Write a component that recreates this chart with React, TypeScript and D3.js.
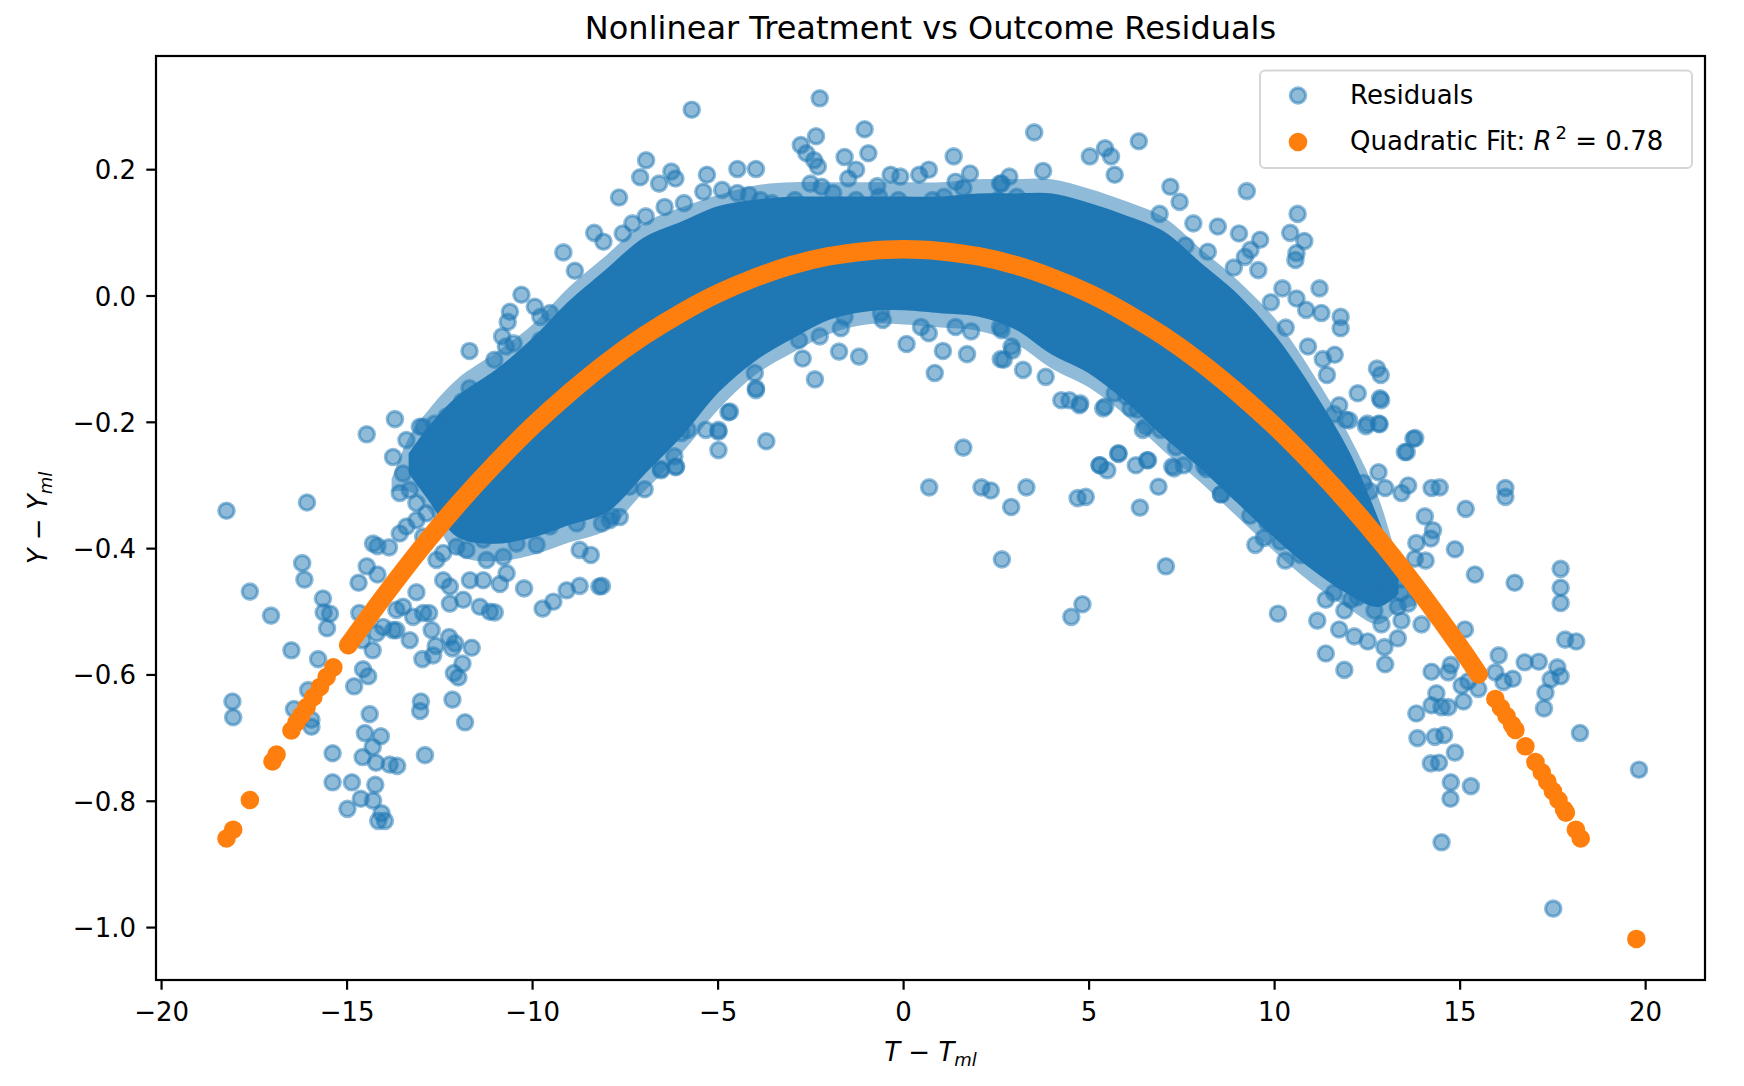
import React, { useEffect } from "react";
import * as d3 from "d3";

const W = 1744;
const H = 1086;
const plot = { left: 156, right: 1705, top: 56, bottom: 980 };

const xDomain: [number, number] = [-20.15, 21.6];
const yDomain: [number, number] = [-1.083, 0.38];
const xTicks = [-20, -15, -10, -5, 0, 5, 10, 15, 20];
const yTicks = [-1.0, -0.8, -0.6, -0.4, -0.2, 0.0, 0.2];

const titleText = "Nonlinear Treatment vs Outcome Residuals";
const legendResiduals = "Residuals";
const legendFit = "Quadratic Fit: ";
const r2Value = "0.78";

// dense core of the residual cloud (upper / lower envelope, fully overlapped)
const coreX = [-13.3, -12.8, -12, -11, -10, -9, -8, -7, -6, -5, -4, -3, -2, -1, 0, 1, 2, 3, 4, 5, 6, 7, 8, 9, 10, 11, 12, 12.8, 13.3];
const coreTop = [-0.25, -0.21, -0.16, -0.12, -0.07, -0.01, 0.04, 0.09, 0.115, 0.14, 0.15, 0.155, 0.155, 0.155, 0.155, 0.155, 0.16, 0.16, 0.16, 0.145, 0.125, 0.1, 0.05, 0.0, -0.065, -0.15, -0.25, -0.36, -0.44];
const coreBottom = [-0.28, -0.32, -0.38, -0.39, -0.38, -0.36, -0.34, -0.28, -0.22, -0.15, -0.1, -0.065, -0.035, -0.022, -0.02, -0.025, -0.03, -0.05, -0.09, -0.12, -0.165, -0.22, -0.27, -0.325, -0.38, -0.43, -0.47, -0.49, -0.47];

// thin fringe of overlapping residuals around the core
const haloX = [-13.8, -13.3, -12.8, -12, -11, -10, -9, -8, -7, -6, -5, -4, -3, -2, -1, 0, 1, 2, 3, 4, 5, 6, 7, 8, 9, 10, 11, 12, 12.8, 13.3, 13.8];
const haloTop = [-0.29, -0.22, -0.18, -0.13, -0.09, -0.045, 0.015, 0.065, 0.115, 0.14, 0.16, 0.175, 0.18, 0.18, 0.18, 0.18, 0.18, 0.185, 0.185, 0.185, 0.17, 0.15, 0.125, 0.075, 0.025, -0.035, -0.12, -0.22, -0.32, -0.41, -0.47];
const haloBottom = [-0.31, -0.31, -0.34, -0.41, -0.42, -0.41, -0.39, -0.37, -0.31, -0.25, -0.18, -0.125, -0.09, -0.06, -0.045, -0.045, -0.05, -0.055, -0.075, -0.115, -0.145, -0.19, -0.245, -0.295, -0.35, -0.405, -0.455, -0.495, -0.52, -0.5, -0.49];

// individual residuals outside the dense core
const residualsLeft: [number, number][] = [
  [-18.25, -0.34], [-16.08, -0.327], [-14.47, -0.219], [-13.71, -0.195], [-13.76, -0.255],
  [-16.21, -0.423], [-16.15, -0.449], [-17.62, -0.468], [-17.05, -0.506], [-15.65, -0.479],
  [-15.63, -0.501], [-15.46, -0.503], [-15.54, -0.526], [-16.5, -0.561], [-15.78, -0.575],
  [-18.09, -0.642], [-18.07, -0.667], [-16.05, -0.624], [-16.43, -0.654], [-15.96, -0.671], [-15.96, -0.682],
  [-15.39, -0.724], [-15.39, -0.77], [-14.87, -0.77], [-14.99, -0.812], [-14.63, -0.796], [-14.24, -0.774], [-14.3, -0.799],
  [-14.16, -0.831], [-13.98, -0.831], [-14.07, -0.819],
  [-14.39, -0.662], [-14.52, -0.692], [-14.09, -0.697], [-14.31, -0.714],
  [-14.58, -0.73], [-14.22, -0.739], [-13.85, -0.742], [-13.65, -0.744],
  [-14.81, -0.618], [-14.57, -0.591], [-14.43, -0.602],
  [-14.69, -0.454], [-14.47, -0.428], [-14.18, -0.441],
  [-14.3, -0.392], [-14.18, -0.396], [-13.87, -0.398],
  [-14.67, -0.502], [-14.59, -0.545], [-14.31, -0.561],
  [-13.01, -0.642], [-13.03, -0.657], [-12.9, -0.727], [-12.16, -0.639], [-11.82, -0.675],
  [-12.12, -0.597], [-12.0, -0.604], [-11.89, -0.582], [-12.97, -0.575], [-12.68, -0.569],
  [-11.64, -0.557], [-12.25, -0.54], [-12.09, -0.55], [-12.16, -0.558], [-12.61, -0.554],
  [-13.13, -0.469], [-13.67, -0.497], [-13.49, -0.492], [-13.22, -0.508], [-12.95, -0.502], [-12.79, -0.502],
  [-12.72, -0.529], [-13.31, -0.545], [-13.76, -0.529], [-12.23, -0.487], [-11.87, -0.481],
  [-11.42, -0.492], [-11.15, -0.5], [-11.02, -0.501], [-10.23, -0.463],
  [-9.73, -0.495], [-9.44, -0.484], [-9.08, -0.466], [-8.73, -0.459], [-8.2, -0.46],
  [-8.73, -0.402], [-8.43, -0.41],
  [-10.79, -0.413], [-10.7, -0.439], [-10.88, -0.456], [-11.33, -0.45], [-11.69, -0.45], [-11.24, -0.418],
  [-12.41, -0.45], [-12.23, -0.46], [-12.59, -0.418], [-12.41, -0.407], [-12.05, -0.397], [-11.78, -0.402],
  [-14.2, -0.534], [-14.03, -0.524], [-13.67, -0.529],
  [-13.49, -0.281], [-13.31, -0.307], [-13.58, -0.312], [-13.13, -0.328], [-12.86, -0.344], [-12.5, -0.291],
  [-12.59, -0.254], [-12.95, -0.207], [-13.4, -0.228], [-12.32, -0.191], [-12.14, -0.186], [-11.69, -0.165],
  [-13.4, -0.365], [-13.58, -0.376], [-13.13, -0.355], [-12.95, -0.381],
  [-11.33, -0.386], [-10.43, -0.392], [-9.89, -0.394], [-9.53, -0.365], [-8.81, -0.36], [-7.92, -0.355], [-7.65, -0.35],
];

const residualsTop: [number, number][] = [
  [-5.71, 0.295], [-2.26, 0.313], [-1.05, 0.264],
  [-2.36, 0.253], [-2.77, 0.239], [-2.62, 0.226], [-2.41, 0.215], [-2.31, 0.205],
  [-0.95, 0.226], [-1.59, 0.22], [-1.28, 0.2], [-1.49, 0.186],
  [1.35, 0.221], [0.68, 0.2], [0.42, 0.192], [-0.09, 0.189], [-0.35, 0.192], [-0.71, 0.174],
  [1.79, 0.194], [1.4, 0.181], [1.61, 0.171], [2.85, 0.189], [2.64, 0.178],
  [-6.94, 0.215], [-7.1, 0.188], [-6.59, 0.178], [-6.26, 0.197], [-6.15, 0.186],
  [-5.3, 0.192], [-4.48, 0.201], [-3.98, 0.201], [-7.67, 0.156],
  [-5.4, 0.165], [-4.89, 0.168], [-4.48, 0.163], [-4.17, 0.16], [-3.86, 0.152], [-3.55, 0.147],
  [-2.93, 0.152], [-2.51, 0.178], [-2.21, 0.173], [-1.9, 0.163], [-1.28, 0.152], [-0.66, 0.157], [-0.14, 0.152],
  [0.78, 0.152], [1.09, 0.157], [2.23, 0.147], [2.54, 0.152], [3.05, 0.157],
  [-9.17, 0.069], [-8.86, 0.04], [-8.34, 0.1], [-8.09, 0.086], [-7.57, 0.099], [-7.31, 0.115], [-6.95, 0.126], [-6.44, 0.141], [-5.92, 0.147],
  [-10.3, 0.002], [-10.61, -0.025], [-10.67, -0.041], [-9.94, -0.017], [-9.79, -0.033], [-9.53, -0.027],
  [-11.7, -0.087], [-11.03, -0.101], [-10.82, -0.064], [-10.72, -0.08], [-10.51, -0.075], [-9.79, -0.07],
  [-12.16, -0.186], [-11.9, -0.167], [-11.7, -0.146], [-12.63, -0.202], [-13.04, -0.207], [-11.08, -0.138],
  [3.52, 0.259], [6.34, 0.245], [5.02, 0.221], [5.43, 0.234], [5.59, 0.221], [5.69, 0.192], [3.76, 0.198], [2.6, 0.178],
  [9.25, 0.166], [10.62, 0.13], [10.42, 0.1], [10.8, 0.087], [10.59, 0.068], [10.56, 0.057],
  [7.19, 0.173], [7.44, 0.149], [7.81, 0.115], [8.47, 0.11], [9.04, 0.099], [9.61, 0.089], [9.35, 0.073], [9.2, 0.062], [9.56, 0.041],
  [10.21, 0.012], [11.21, 0.012], [10.59, -0.004], [10.85, -0.022], [11.26, -0.027], [11.78, -0.033], [11.78, -0.051],
  [11.62, -0.093], [11.41, -0.125], [12.76, -0.115], [12.86, -0.125], [12.24, -0.154], [12.84, -0.162],
  [13.74, -0.226], [13.51, -0.247], [12.5, -0.202], [12.81, -0.202], [11.92, -0.196],
  [8.2, 0.07], [8.9, 0.045], [9.9, -0.01], [10.3, -0.05], [10.9, -0.08], [11.3, -0.1], [7.6, 0.08], [6.9, 0.13],
];

const residualsMiddle: [number, number][] = [
  [-3.7, -0.23], [1.61, -0.24], [-2.39, -0.132],
  [-1.2, -0.096], [-1.74, -0.088], [-1.69, -0.051], [-1.59, -0.033], [-2.26, -0.064], [-2.72, -0.099], [-2.82, -0.07],
  [0.08, -0.076], [0.84, -0.122], [1.06, -0.087], [1.71, -0.092], [2.62, -0.1], [2.93, -0.086], [-0.56, -0.038],
  [-0.61, -0.027], [0.47, -0.049], [0.68, -0.059], [1.4, -0.049], [1.82, -0.056], [2.64, -0.054],
  [-3.98, -0.149], [-4.01, -0.122], [-4.68, -0.183], [-4.99, -0.212], [-4.99, -0.244], [-6.18, -0.254], [-6.13, -0.27],
  [-6.54, -0.276], [-5.82, -0.212],
  [2.7, -0.101], [3.22, -0.117], [3.83, -0.128], [4.25, -0.165], [4.76, -0.17], [5.38, -0.178], [5.69, -0.154], [6.0, -0.159],
  [6.31, -0.18], [6.52, -0.207], [6.93, -0.212], [7.34, -0.239], [5.79, -0.249], [5.28, -0.268], [5.49, -0.276], [6.26, -0.268],
  [6.56, -0.26], [7.24, -0.27], [7.55, -0.268], [2.6, -0.049], [2.91, -0.08],
  [0.69, -0.303], [2.1, -0.303], [2.35, -0.308], [3.31, -0.303], [2.9, -0.334], [2.65, -0.417],
  [4.69, -0.32], [4.91, -0.318], [6.37, -0.335], [6.87, -0.302], [7.07, -0.428], [4.82, -0.488], [4.52, -0.508],
  [5.29, -0.268], [5.79, -0.25], [6.59, -0.26], [7.29, -0.273], [8.1, -0.269], [8.56, -0.314],
  [4.47, -0.165], [4.74, -0.173], [5.43, -0.175], [6.12, -0.178], [6.45, -0.212],
  [-5.33, -0.212], [-4.99, -0.215], [-4.72, -0.184], [-5.99, -0.217], [-6.54, -0.274], [-6.15, -0.271], [-6.98, -0.306],
  [-7.39, -0.302], [-7.86, -0.349], [-8.13, -0.36], [-8.13, -0.459], [-3.98, -0.146],
];

const residualsRight: [number, number][] = [
  [19.82, -0.75], [17.51, -0.97], [14.5, -0.865],
  [14.75, -0.77], [14.74, -0.796], [15.29, -0.776],
  [14.21, -0.74], [14.43, -0.739], [14.86, -0.723],
  [13.85, -0.7], [14.32, -0.698], [14.57, -0.695],
  [13.82, -0.661], [14.23, -0.648], [14.5, -0.651], [14.36, -0.629], [15.09, -0.642], [14.68, -0.651],
  [14.23, -0.595], [14.68, -0.596], [15.04, -0.617], [15.22, -0.61], [15.49, -0.622], [14.75, -0.584], [15.13, -0.528],
  [15.95, -0.596], [16.17, -0.611], [16.42, -0.606], [16.04, -0.569],
  [16.74, -0.58], [17.12, -0.579], [17.62, -0.588], [17.44, -0.607], [17.71, -0.602], [17.3, -0.628], [17.26, -0.653],
  [17.83, -0.544], [18.13, -0.547], [18.23, -0.692],
  [17.71, -0.432], [17.71, -0.462], [17.71, -0.486],
  [16.22, -0.304], [16.22, -0.318],
  [16.47, -0.454], [15.4, -0.441], [14.86, -0.401], [15.15, -0.337],
  [14.23, -0.304], [14.45, -0.303], [13.6, -0.3], [13.42, -0.312], [14.05, -0.349], [14.27, -0.371], [14.21, -0.384],
  [13.82, -0.391], [14.07, -0.419], [12.98, -0.304], [12.57, -0.309], [12.39, -0.296], [12.8, -0.279], [13.56, -0.247], [13.79, -0.225],
  [12.01, -0.197], [12.46, -0.206], [12.83, -0.203], [12.87, -0.165], [11.74, -0.173], [11.6, -0.187],
  [10.09, -0.503], [11.15, -0.514], [11.38, -0.566], [11.88, -0.592], [12.98, -0.583], [11.74, -0.528], [12.15, -0.539],
  [12.51, -0.547], [12.96, -0.556], [13.32, -0.542], [12.69, -0.498], [12.24, -0.477], [12.88, -0.52], [13.42, -0.514], [13.96, -0.52],
  [11.38, -0.481], [11.88, -0.498], [12.33, -0.47], [12.6, -0.46], [12.78, -0.449], [13.05, -0.438], [13.41, -0.47],
  [13.32, -0.492], [13.6, -0.487], [13.87, -0.468],
  [9.48, -0.394], [10.29, -0.419], [9.71, -0.383], [10.16, -0.389], [10.7, -0.41], [10.97, -0.4],
  [8.55, -0.314], [9.34, -0.348], [9.8, -0.359], [8.17, -0.274],
  [11.42, -0.421], [11.78, -0.449], [12.06, -0.481], [11.6, -0.47],
  [13.78, -0.416], [13.41, -0.449], [13.05, -0.47],
];

// quadratic fit: dense run of fitted points (drawn as a continuous band) and isolated fitted points
const fitRunX = [-14.97, -14, -13, -12, -11, -10, -9, -8, -7, -6, -5, -4, -3, -2, -1, 0, 1, 2, 3, 4, 5, 6, 7, 8, 9, 10, 11, 12, 13, 14, 15, 15.5];
const fitRunY = [-0.553, -0.475, -0.399, -0.329, -0.265, -0.206, -0.153, -0.105, -0.063, -0.027, 0.004, 0.029, 0.049, 0.063, 0.071, 0.074, 0.071, 0.063, 0.049, 0.029, 0.004, -0.027, -0.063, -0.105, -0.153, -0.206, -0.265, -0.329, -0.399, -0.475, -0.556, -0.599];
const fitPoints: [number, number][] = [
  [-18.25, -0.859], [-18.07, -0.845], [-17.62, -0.798], [-17.01, -0.737], [-16.9, -0.726],
  [-16.5, -0.688], [-16.36, -0.675], [-16.23, -0.664], [-16.09, -0.651], [-15.91, -0.635], [-15.73, -0.619], [-15.55, -0.603], [-15.37, -0.588],
  [15.95, -0.638], [16.1, -0.652], [16.25, -0.665], [16.4, -0.679], [16.49, -0.687], [16.76, -0.713],
  [17.03, -0.738], [17.2, -0.754], [17.35, -0.769], [17.5, -0.784], [17.65, -0.798], [17.8, -0.813], [17.85, -0.818],
  [18.12, -0.845], [18.25, -0.859], [19.75, -1.018],
];

const BLUE = "#1f77b4";
const ORANGE = "#ff7f0e";
const FONT = "DejaVu Sans, Verdana, sans-serif";
const R = 7.7;
const SW = 3.2;

export default function App() {
  useEffect(() => {
    document.body.style.margin = "0";
  }, []);

  const x = d3.scaleLinear().domain(xDomain).range([plot.left, plot.right]);
  const y = d3.scaleLinear().domain(yDomain).range([plot.bottom, plot.top]);
  const fmtY = d3.format(".1f");
  const fmtX = d3.format("d");

  const bandPath = (xs: number[], top: number[], bottom: number[]) =>
    d3
      .area<number>()
      .x((i) => x(xs[i]))
      .y0((i) => y(bottom[i]))
      .y1((i) => y(top[i]))
      .curve(d3.curveCatmullRom)(xs.map((_, i) => i)) as string;

  const coreArea = bandPath(coreX, coreTop, coreBottom);
  const haloArea = bandPath(haloX, haloTop, haloBottom);

  const fitLine = d3
    .line<number>()
    .x((i) => x(fitRunX[i]))
    .y((i) => y(fitRunY[i]))
    .curve(d3.curveCatmullRom)(fitRunX.map((_, i) => i)) as string;

  const residuals = [...residualsLeft, ...residualsTop, ...residualsMiddle, ...residualsRight];

  const legX = 1260;
  const legY = 70.5;
  const legW = 432;
  const legH = 97.5;

  return (
    <svg width={W} height={H} style={{ position: "absolute", left: 0, top: 0, background: "#fff" }} fontFamily={FONT}>
      <rect x={0} y={0} width={W} height={H} fill="#fff" />
      <defs>
        <clipPath id="plotClip">
          <rect x={plot.left} y={plot.top} width={plot.right - plot.left} height={plot.bottom - plot.top} />
        </clipPath>
      </defs>

      <g clipPath="url(#plotClip)">
        <path d={haloArea} fill={BLUE} fillOpacity={0.5} stroke="none" />
        <path d={coreArea} fill={BLUE} stroke={BLUE} strokeWidth={3} strokeLinejoin="round" />
        {residuals.map(([a, b], i) => (
          <circle
            key={"r" + i}
            cx={x(a)}
            cy={y(b)}
            r={R}
            fill={BLUE}
            fillOpacity={0.5}
            stroke={BLUE}
            strokeOpacity={0.5}
            strokeWidth={SW}
          />
        ))}
        <path d={fitLine} fill="none" stroke={ORANGE} strokeWidth={2 * R + SW} strokeLinecap="round" strokeLinejoin="round" />
        {fitPoints.map(([a, b], i) => (
          <circle key={"f" + i} cx={x(a)} cy={y(b)} r={R} fill={ORANGE} stroke={ORANGE} strokeWidth={SW} />
        ))}
      </g>

      <rect
        x={plot.left}
        y={plot.top}
        width={plot.right - plot.left}
        height={plot.bottom - plot.top}
        fill="none"
        stroke="#000"
        strokeWidth={2.2}
      />

      {xTicks.map((t) => (
        <g key={"xt" + t}>
          <line x1={x(t)} x2={x(t)} y1={plot.bottom} y2={plot.bottom + 9.7} stroke="#000" strokeWidth={2.2} />
          <text x={x(t)} y={1020.5} fontSize={26} textAnchor="middle" fill="#000">
            {fmtX(t)}
          </text>
        </g>
      ))}

      {yTicks.map((t) => (
        <g key={"yt" + t}>
          <line x1={plot.left - 9.7} x2={plot.left} y1={y(t)} y2={y(t)} stroke="#000" strokeWidth={2.2} />
          <text x={136} y={y(t) + 9.5} fontSize={26} textAnchor="end" fill="#000">
            {fmtY(t)}
          </text>
        </g>
      ))}

      <text x={(plot.left + plot.right) / 2} y={39} fontSize={32} textAnchor="middle" fill="#000">
        {titleText}
      </text>

      <text x={(plot.left + plot.right) / 2} y={1061} fontSize={26} textAnchor="middle" fill="#000">
        <tspan fontStyle="italic">T</tspan>
        <tspan> − </tspan>
        <tspan fontStyle="italic">T</tspan>
        <tspan fontStyle="italic" fontSize={18} dy={5}>ml</tspan>
      </text>

      <text
        transform={`translate(47, ${(plot.top + plot.bottom) / 2}) rotate(-90)`}
        fontSize={26}
        textAnchor="middle"
        fill="#000"
      >
        <tspan fontStyle="italic">Y</tspan>
        <tspan> − </tspan>
        <tspan fontStyle="italic">Y</tspan>
        <tspan fontStyle="italic" fontSize={18} dy={5}>ml</tspan>
      </text>

      <g>
        <rect x={legX} y={legY} width={legW} height={legH} rx={5} fill="#fff" fillOpacity={0.8} stroke="#d6d6d6" strokeWidth={2} />
        <circle cx={1298} cy={95.5} r={R} fill={BLUE} fillOpacity={0.5} stroke={BLUE} strokeOpacity={0.5} strokeWidth={SW} />
        <text x={1350} y={103.5} fontSize={26} fill="#000">
          {legendResiduals}
        </text>
        <circle cx={1298} cy={142} r={R} fill={ORANGE} stroke={ORANGE} strokeWidth={SW} />
        <text x={1350} y={149.5} fontSize={26} fill="#000">
          <tspan>{legendFit}</tspan>
          <tspan fontStyle="italic">R</tspan>
          <tspan fontSize={18} dy={-11} dx={4}>2</tspan>
          <tspan dy={11}>{" = " + r2Value}</tspan>
        </text>
      </g>
    </svg>
  );
}
